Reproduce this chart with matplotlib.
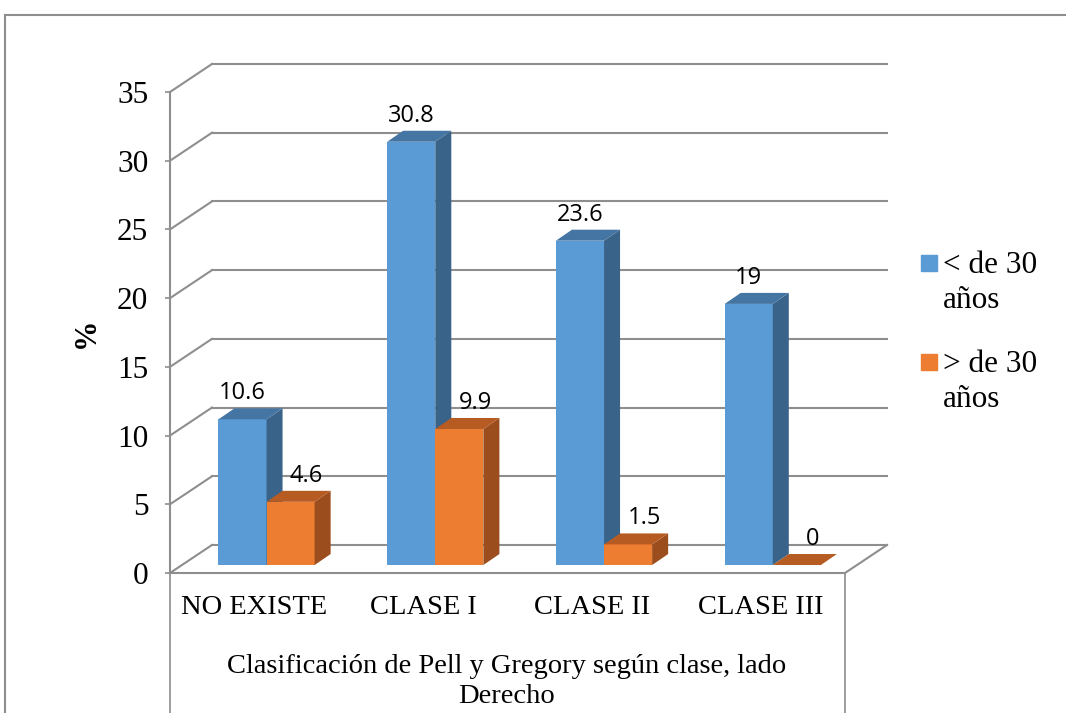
import matplotlib
matplotlib.use("Agg")
import matplotlib.pyplot as plt
from matplotlib.lines import Line2D
from matplotlib.patches import Rectangle

# data
categories = ["NO EXISTE", "CLASE I", "CLASE II", "CLASE III"]
menor_30 = [10.6, 30.8, 23.6, 19]
mayor_30 = [4.6, 9.9, 1.5, 0]
series_names = ["< de 30\naños", "> de 30\naños"]
x_title = "Clasificación de Pell y Gregory según clase, lado\nDerecho"
yticks = [0, 5, 10, 15, 20, 25, 30, 35]

blue = ["#5B9BD5", "#4575A3", "#3A6389"]     # front, top, side
orange = ["#ED7D31", "#B65B22", "#9C4D1D"]
grid_c = "#8E8E8E"
serif = "Liberation Serif"

W, H = 1066, 713
fig = plt.figure(figsize=(W / 100, H / 100), dpi=100)
ax = fig.add_axes([170 / W, (H - 573) / H, 675 / W, 481 / H])
ax.set_xlim(0, 4)
ax.set_ylim(0, 35)

# 3d offsets in data units
wall_dx, wall_dy = 0.249, 2.04
bar_dx, bar_dy = 0.095, 0.80
base = 0.58
bw = 0.285
off = 0.287

# back wall gridlines + left diagonals
for v in yticks:
    ax.plot([0.0, wall_dx], [v, v + wall_dy], color=grid_c, lw=1.5, clip_on=False, zorder=1)
    ax.plot([wall_dx, 4 + wall_dx], [v + wall_dy, v + wall_dy], color=grid_c, lw=1.5,
            clip_on=False, zorder=1)
# floor
ax.plot([0, 4], [0, 0], color=grid_c, lw=1.5, clip_on=False, zorder=1)
ax.plot([4, 4 + wall_dx], [0, wall_dy], color=grid_c, lw=1.5, clip_on=False, zorder=1)
# category box lines
ax.plot([0, 0], [0, -11], color=grid_c, lw=1.2, clip_on=False, zorder=1)
ax.plot([4, 4], [-0.1, -11], color=grid_c, lw=1.2, clip_on=False, zorder=1)


def draw_series(vals, shift, cols):
    xs = [i + off + shift for i in range(len(vals))]
    ax.bar(xs, vals, width=bw, bottom=base, align="edge", color=cols[0], zorder=3)
    for x0, v in zip(xs, vals):
        t = base + v
        ax.fill([x0 + bw, x0 + bw + bar_dx, x0 + bw + bar_dx, x0 + bw],
                [base, base + bar_dy, t + bar_dy, t], color=cols[2], zorder=3, lw=0)
        ax.fill([x0, x0 + bar_dx, x0 + bw + bar_dx, x0 + bw],
                [t, t + bar_dy, t + bar_dy, t], color=cols[1], zorder=3, lw=0)
    return xs


xs_b = draw_series(menor_30, 0, blue)
xs_o = draw_series(mayor_30, bw, orange)

# data labels
for x0, v in zip(xs_b, menor_30):
    ax.text(x0 + bw / 2, base + v + 1.89, f"{v:g}", ha="center", va="center",
            fontsize=17, family="Open Sans", zorder=5, clip_on=False)
for x0, v in zip(xs_o, mayor_30):
    ax.text(x0 + bw / 2 + bar_dx, base + v + 1.89, f"{v:g}", ha="center", va="center",
            fontsize=17, family="Open Sans", zorder=5, clip_on=False)

# axes styling
for s in ["top", "right", "bottom"]:
    ax.spines[s].set_visible(False)
ax.spines["left"].set_color(grid_c)
ax.spines["left"].set_linewidth(1.5)
ax.set_yticks(yticks)
ax.set_yticklabels([str(v) for v in yticks], family=serif, fontsize=22.5)
ax.tick_params(axis="y", length=3.6, width=1.2, color=grid_c, pad=12)
ax.set_xticks([i + 0.5 for i in range(len(categories))])
ax.set_xticklabels(categories, family=serif, fontsize=20.5)
ax.tick_params(axis="x", length=0, pad=16)
ax.set_facecolor("none")

fig.text(86 / W, 1 - 333 / H, "%", rotation=90, ha="center", va="center",
         family=serif, fontsize=22, fontweight="bold")
for k, line in enumerate(x_title.split("\n")):
    fig.text(507 / W, 1 - (673 + 30 * k) / H, line, ha="center", va="baseline",
             family=serif, fontsize=20.5)

# legend
for k, (name, col) in enumerate(zip(series_names, [blue[0], orange[0]])):
    y_sq = 255 + k * 99
    fig.add_artist(Rectangle((921 / W, 1 - (y_sq + 16) / H), 16 / W, 16 / H,
                             transform=fig.transFigure, color=col))
    for j, line in enumerate(name.split("\n")):
        fig.text(943 / W, 1 - (y_sq + 18 + 35 * j) / H, line, ha="left", va="baseline",
                 family=serif, fontsize=22.5)

# outer chart border
fig.add_artist(Line2D([5 / W, 1], [1 - 15 / H, 1 - 15 / H], transform=fig.transFigure,
                      color=grid_c, lw=1.5))
fig.add_artist(Line2D([5 / W, 5 / W], [0, 1 - 15 / H], transform=fig.transFigure,
                      color=grid_c, lw=1.5))

fig.savefig("out.png", dpi=100)
